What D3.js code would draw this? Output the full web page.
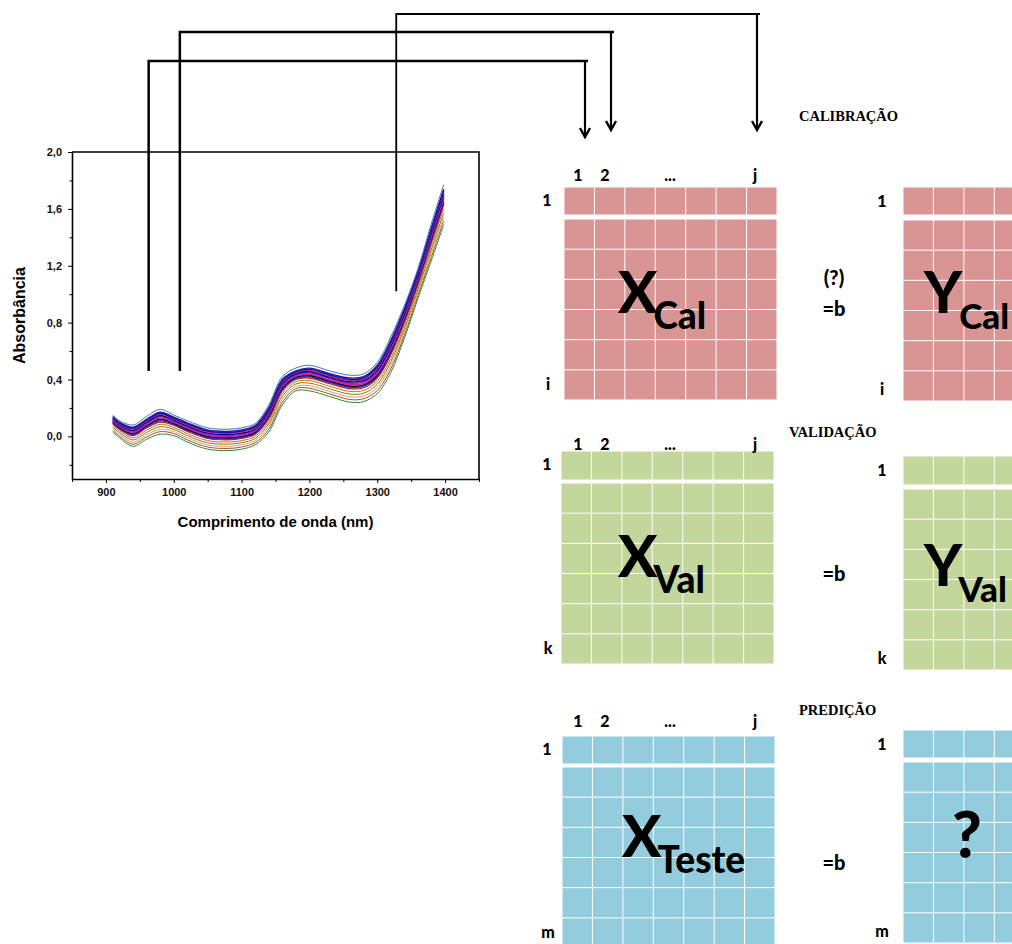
<!DOCTYPE html>
<html>
<head>
<meta charset="utf-8">
<script src="https://cdn.jsdelivr.net/npm/d3@7"></script>
<style>
  html, body { margin: 0; padding: 0; background: #fff; }
  svg { display: block; }
</style>
</head>
<body>
<svg id="chart" width="1012" height="944"></svg>
<script>
// ---------------- DATA ----------------
const wavelengths = [910, 920, 940, 960, 980, 1000, 1020, 1050, 1080, 1100, 1120, 1140, 1160, 1180, 1200, 1230, 1260, 1280, 1300, 1320, 1340, 1360, 1380, 1398];

const sTop = [0.150, 0.110, 0.080, 0.140, 0.190, 0.150, 0.110, 0.060, 0.050, 0.060, 0.090, 0.220, 0.420, 0.480, 0.500, 0.460, 0.430, 0.440, 0.520, 0.700, 0.920, 1.180, 1.500, 1.770];
const s90  = [0.140, 0.100, 0.065, 0.120, 0.170, 0.135, 0.095, 0.045, 0.035, 0.045, 0.075, 0.200, 0.400, 0.460, 0.480, 0.440, 0.410, 0.420, 0.500, 0.675, 0.900, 1.160, 1.470, 1.740];
const s85  = [0.133, 0.093, 0.058, 0.114, 0.163, 0.128, 0.088, 0.038, 0.028, 0.038, 0.068, 0.191, 0.390, 0.454, 0.472, 0.432, 0.401, 0.411, 0.488, 0.663, 0.887, 1.149, 1.459, 1.727];
const s80  = [0.126, 0.086, 0.050, 0.108, 0.155, 0.121, 0.080, 0.030, 0.020, 0.030, 0.060, 0.182, 0.380, 0.448, 0.464, 0.424, 0.392, 0.401, 0.476, 0.650, 0.874, 1.138, 1.448, 1.714];
const s75  = [0.120, 0.080, 0.043, 0.100, 0.147, 0.114, 0.073, 0.023, 0.013, 0.023, 0.053, 0.173, 0.370, 0.440, 0.455, 0.415, 0.383, 0.392, 0.465, 0.638, 0.863, 1.128, 1.435, 1.700];
const s70  = [0.114, 0.074, 0.035, 0.092, 0.138, 0.107, 0.065, 0.015, 0.005, 0.015, 0.045, 0.163, 0.360, 0.432, 0.446, 0.406, 0.373, 0.382, 0.454, 0.625, 0.851, 1.117, 1.422, 1.686];
const s65  = [0.108, 0.068, 0.028, 0.084, 0.129, 0.100, 0.058, 0.008, -0.003, 0.008, 0.038, 0.154, 0.350, 0.424, 0.437, 0.397, 0.364, 0.372, 0.443, 0.613, 0.840, 1.107, 1.409, 1.672];
const s60  = [0.102, 0.062, 0.020, 0.076, 0.120, 0.092, 0.050, 0.000, -0.010, 0.000, 0.030, 0.144, 0.340, 0.416, 0.428, 0.388, 0.354, 0.362, 0.432, 0.600, 0.828, 1.096, 1.396, 1.658];
const s55  = [0.096, 0.056, 0.013, 0.068, 0.110, 0.085, 0.043, -0.008, -0.018, -0.008, 0.023, 0.135, 0.330, 0.408, 0.419, 0.379, 0.345, 0.352, 0.421, 0.588, 0.817, 1.086, 1.383, 1.644];
const s50  = [0.090, 0.050, 0.005, 0.060, 0.100, 0.078, 0.035, -0.015, -0.025, -0.015, 0.015, 0.125, 0.320, 0.400, 0.410, 0.370, 0.335, 0.342, 0.410, 0.575, 0.805, 1.075, 1.370, 1.630];
const s40  = [0.078, 0.038, -0.010, 0.044, 0.085, 0.063, 0.020, -0.030, -0.040, -0.030, 0.000, 0.106, 0.300, 0.384, 0.392, 0.352, 0.316, 0.323, 0.388, 0.550, 0.782, 1.054, 1.344, 1.602];
const s30  = [0.066, 0.026, -0.025, 0.028, 0.068, 0.049, 0.005, -0.045, -0.055, -0.045, -0.015, 0.087, 0.280, 0.368, 0.374, 0.334, 0.297, 0.304, 0.366, 0.525, 0.759, 1.033, 1.318, 1.574];
const s20  = [0.054, 0.014, -0.040, 0.012, 0.050, 0.034, -0.010, -0.060, -0.070, -0.060, -0.030, 0.068, 0.260, 0.352, 0.356, 0.316, 0.278, 0.284, 0.344, 0.500, 0.736, 1.012, 1.292, 1.546];
const s10  = [0.042, 0.002, -0.055, -0.004, 0.033, 0.020, -0.025, -0.075, -0.085, -0.075, -0.045, 0.049, 0.240, 0.336, 0.338, 0.298, 0.259, 0.265, 0.322, 0.475, 0.713, 0.991, 1.266, 1.518];
const sLow = [0.030, -0.010, -0.070, -0.020, 0.015, 0.005, -0.040, -0.090, -0.100, -0.090, -0.060, 0.030, 0.220, 0.320, 0.320, 0.280, 0.240, 0.245, 0.300, 0.450, 0.690, 0.970, 1.240, 1.490];

// drawn in this order (last on top)
const spectra = [sLow, s10, s20, s30, s40, s50, s55, s60, s65, s70, s75, s80, s85, s90, sTop];
const spectraColors = ["#2e8b2e", "#a0522d", "#e9967a", "#808000", "#d2691e", "#b22222", "#3030d0", "#000000", "#d02090", "#8a2be2", "#000080", "#c0306a", "#1010c0", "#2020a0", "#4a6fb5"];
const spectraWidths = [1, 1, 1, 1, 1, 1.2, 1.6, 1.4, 1.6, 1.6, 1.6, 1.5, 1.6, 1.4, 1];

const xMajorTicks = [900, 1000, 1100, 1200, 1300, 1400];
const xMinorTicks = [850, 950, 1050, 1150, 1250, 1350, 1450];
const yMajorTicks = [0, 0.4, 0.8, 1.2, 1.6, 2.0];
const yMinorTicks = [-0.2, 0.2, 0.6, 1.0, 1.4, 1.8];

// selected wavelengths (nm) and where the connector starts (absorbance)
const selectedNm = [963, 1009, 1328];
const selectedStart = [0.46, 0.46, 1.02];

// matrix labels
const colLabels = ["1", "2", "...", "j"];
const sections = ["CALIBRAÇÃO", "VALIDAÇÃO", "PREDIÇÃO"];
const rowEndLabels = ["i", "k", "m"];
const xNames = ["Cal", "Val", "Teste"];
const yNames = ["Cal", "Val", "?"];
const equations = [["(?)", "=b"], ["=b"], ["=b"]];
const nCols = 7, nBodyRows = 6;

// ---------------- DRAW ----------------
const svg = d3.select("#chart");
const locale = d3.formatLocale({decimal: ",", thousands: ".", grouping: [3], currency: ["", ""]});
const fmt = locale.format(".1f");

const plot = {left: 72, right: 479, top: 152, bottom: 479};
const x = d3.scaleLinear().domain([850, 1450]).range([plot.left, plot.right]);
const y = d3.scaleLinear().domain([-0.3, 2.0]).range([plot.bottom, plot.top]);

svg.append("defs").append("clipPath").attr("id", "plotclip")
  .append("rect").attr("x", plot.left).attr("y", plot.top)
  .attr("width", plot.right - plot.left).attr("height", plot.bottom - plot.top);

const line = d3.line()
  .x((d, i) => x(wavelengths[i]))
  .y(d => y(d))
  .curve(d3.curveCatmullRom.alpha(0.5));

svg.append("g").attr("clip-path", "url(#plotclip)")
  .selectAll("path").data(spectra).join("path")
  .attr("d", d => line(d))
  .attr("fill", "none")
  .attr("stroke", (d, i) => spectraColors[i])
  .attr("stroke-width", (d, i) => spectraWidths[i]);

const tickFont = "bold 11px 'Liberation Sans', Arial, sans-serif";

// x axis
svg.append("g").attr("transform", `translate(0,${plot.bottom})`)
  .call(d3.axisBottom(x).tickValues(xMajorTicks).tickFormat(d3.format("d")).tickSize(4).tickSizeOuter(0).tickPadding(5));
svg.append("g").attr("transform", `translate(0,${plot.bottom})`)
  .call(d3.axisBottom(x).tickValues(xMinorTicks).tickFormat("").tickSize(3).tickSizeOuter(0))
  .select(".domain").remove();

// y axis
svg.append("g").attr("transform", `translate(${plot.left},0)`)
  .call(d3.axisLeft(y).tickValues(yMajorTicks).tickFormat(fmt).tickSize(4).tickSizeOuter(0).tickPadding(6));
svg.append("g").attr("transform", `translate(${plot.left},0)`)
  .call(d3.axisLeft(y).tickValues(yMinorTicks).tickFormat("").tickSize(2.5).tickSizeOuter(0))
  .select(".domain").remove();

svg.selectAll(".tick text").style("font", tickFont).attr("fill", "#111");
svg.selectAll(".domain").attr("stroke", "#000").attr("stroke-width", 1.6);
svg.selectAll(".tick line").attr("stroke", "#000").attr("stroke-width", 1);

// frame top + right
svg.append("path")
  .attr("d", `M${plot.left},${plot.top}H${plot.right}V${plot.bottom}`)
  .attr("fill", "none").attr("stroke", "#000").attr("stroke-width", 1.6);

svg.append("text")
  .attr("transform", `translate(19,${(plot.top + plot.bottom) / 2}) rotate(-90)`)
  .attr("text-anchor", "middle").attr("dominant-baseline", "central")
  .style("font", "bold 16px 'Liberation Sans', Arial, sans-serif")
  .text("Absorbância");

svg.append("text")
  .attr("x", (plot.left + plot.right) / 2).attr("y", 521)
  .attr("text-anchor", "middle").attr("dominant-baseline", "central")
  .style("font", "bold 15px 'Liberation Sans', Arial, sans-serif")
  .text("Comprimento de onda (nm)");

// ---------------- CONNECTORS ----------------
const connTop = [61, 32, 14];
const connEndX = [585, 611, 757];
const connTip = [137, 130, 130];
const connWidth = [2.5, 2.5, 1.8];
selectedNm.forEach((nm, i) => {
  const xv = x(nm);
  svg.append("path")
    .attr("d", `M${xv},${y(selectedStart[i])}V${connTop[i]}H${connEndX[i] + 3}`)
    .attr("fill", "none").attr("stroke", "#000").attr("stroke-width", connWidth[i]);
  svg.append("path")
    .attr("d", `M${connEndX[i]},${connTop[i]}V${connTip[i] - 1}`)
    .attr("fill", "none").attr("stroke", "#000").attr("stroke-width", 2.2);
  svg.append("path")
    .attr("d", `M${connEndX[i] - 5},${connTip[i] - 9}L${connEndX[i]},${connTip[i]}L${connEndX[i] + 5},${connTip[i] - 9}`)
    .attr("fill", "none").attr("stroke", "#000").attr("stroke-width", 2.4)
    .attr("stroke-linejoin", "miter");
});

// ---------------- MATRICES ----------------
const colors = ["#d99594", "#c3d69b", "#93cddd"];
const lato = "'Lato', 'Open Sans', sans-serif";
const W = 900;

function drawMatrix(g, x0, top, headH, gap, bodyH, fill) {
  const w = 213;
  const cx = d3.scaleLinear().domain([0, nCols]).range([x0, x0 + w]);
  const bodyTop = top + headH + gap;
  const ry = d3.scaleLinear().domain([0, nBodyRows]).range([bodyTop, bodyTop + bodyH]);
  const cells = [];
  d3.range(nCols).forEach(c => {
    cells.push({x: cx(c), y: top, w: cx(c + 1) - cx(c), h: headH});
    d3.range(nBodyRows).forEach(r => cells.push({x: cx(c), y: ry(r), w: cx(c + 1) - cx(c), h: ry(r + 1) - ry(r)}));
  });
  g.selectAll(null).data(cells).join("rect")
    .attr("x", d => d.x + 0.5).attr("y", d => d.y + 0.5)
    .attr("width", d => d.w - 1).attr("height", d => d.h - 1)
    .attr("fill", fill);
}

const layout = [
  {xm: 564, ym: 903, top: 187, ytop: 187, head: 28, gap: 4, colY: 174, secX: 799, secY: 116},
  {xm: 561, ym: 903, top: 451, ytop: 456, head: 29, gap: 3, colY: 443, secX: 789, secY: 432},
  {xm: 562, ym: 903, top: 736, ytop: 730, head: 28, gap: 3, colY: 720, secX: 799, secY: 710}
];
const colLabelX = [578, 605, 670, 755];

function bigName(g, x0, base, main, sub, dxSub, subSize) {
  const t = g.append("text").attr("x", x0).attr("y", base)
    .style("font-family", lato).style("font-weight", W);
  t.append("tspan").style("font-size", "58px").text(main);
  t.append("tspan").attr("dy", 16).attr("dx", dxSub).style("font-size", subSize + "px").text(sub);
}

layout.forEach((L, s) => {
  const g = svg.append("g");
  drawMatrix(g, L.xm, L.top, L.head, L.gap, 181, colors[s]);
  drawMatrix(g, L.ym, L.ytop, L.head, L.gap + 1, 181, colors[s]);

  // section title
  g.append("text").attr("x", L.secX).attr("y", L.secY)
    .attr("dominant-baseline", "central")
    .style("font", "bold 14.5px 'Liberation Serif', 'Times New Roman', serif")
    .text(sections[s]);

  const small = `${W} 16px ${lato}`;
  // column labels
  g.selectAll(null).data(colLabels).join("text")
    .attr("x", (d, i) => colLabelX[i]).attr("y", L.colY)
    .attr("text-anchor", "middle").attr("dominant-baseline", "central")
    .style("font", small)
    .text(d => d);

  // row labels X
  const bottomX = L.top + L.head + L.gap + 181;
  g.append("text").attr("x", 547).attr("y", L.top + 12).attr("text-anchor", "middle")
    .attr("dominant-baseline", "central").style("font", small).text("1");
  g.append("text").attr("x", 548).attr("y", bottomX - 17).attr("text-anchor", "middle")
    .attr("dominant-baseline", "central").style("font", small).text(rowEndLabels[s]);
  // row labels Y
  const bottomY = L.ytop + L.head + L.gap + 1 + 181;
  g.append("text").attr("x", 882).attr("y", L.ytop + 13).attr("text-anchor", "middle")
    .attr("dominant-baseline", "central").style("font", small).text("1");
  g.append("text").attr("x", 882).attr("y", bottomY - 13).attr("text-anchor", "middle")
    .attr("dominant-baseline", "central").style("font", small).text(rowEndLabels[s]);

  // X name
  const xBase = [313, 577, 857][s];
  const xLeft = [618, 618, 622][s];
  bigName(g, xLeft, xBase, "X", xNames[s], -4, 37);

  // equation
  const eqY = [[277, 308], [573], [862]][s];
  equations[s].forEach((t, k) => {
    g.append("text").attr("x", 834).attr("y", eqY[k])
      .attr("text-anchor", "middle").attr("dominant-baseline", "central")
      .style("font", `${W} 20px ${lato}`).text(t);
  });

  // Y name
  if (s < 2) {
    bigName(g, 924, [313, 586][s], "Y", yNames[s], s === 0 ? -3 : -4, 35);
  } else {
    g.append("text").attr("x", 967).attr("y", 858).attr("text-anchor", "middle")
      .style("font", `${W} 64px ${lato}`).text(yNames[s]);
  }
});
</script>
</body>
</html>
